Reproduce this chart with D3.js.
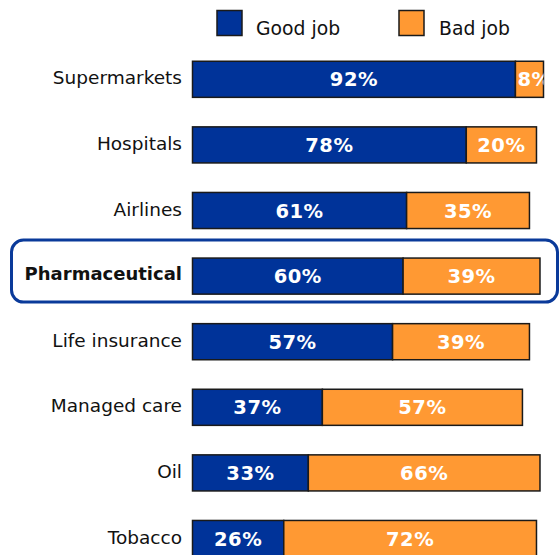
<!DOCTYPE html>
<html><head><meta charset="utf-8">
<script src="https://cdn.jsdelivr.net/npm/d3@7"></script>
<style>body{margin:0;background:#fff;}svg{display:block;font-family:"DejaVu Sans",Verdana,sans-serif;}</style>
</head><body>
<script>
const categories = ["Supermarkets","Hospitals","Airlines","Pharmaceutical","Life insurance","Managed care","Oil","Tobacco"];
const goodJob = [92,78,61,60,57,37,33,26];
const badJob = [8,20,35,39,39,57,66,72];
const seriesNames = ["Good job","Bad job"];
const colors = ["#003399","#FF9933"];
const highlight = "Pharmaceutical";

const W = 559, H = 555;
const svg = d3.select("body").append("svg").attr("width",W).attr("height",H);

const x = d3.scaleLinear().domain([0,100]).range([192.5,543.5]);
const y = d3.scaleBand().domain(categories).range([46.5, 46.5 + 65.6*categories.length]).paddingInner(0.45).paddingOuter(0.225);

// highlight box
const hy = y(highlight) + y.bandwidth()/2;
svg.append("rect").attr("x",11.5).attr("y",hy-36).attr("width",546).attr("height",62)
  .attr("rx",12).attr("fill","none").attr("stroke","#0A3A9A").attr("stroke-width",3);

const data = categories.map((c,i)=>({cat:c, vals:[goodJob[i], badJob[i]]}));
const defs = svg.append("defs");

data.forEach((d,i)=>{
  let start = 0;
  d.vals.forEach((v,k)=>{
    const x0 = x(start), x1 = x(start+v);
    const id = "clip"+i+"_"+k;
    defs.append("clipPath").attr("id",id).append("rect")
      .attr("x",x0).attr("y",y(d.cat)).attr("width",x1-x0).attr("height",y.bandwidth());
    svg.append("rect").attr("x",x0).attr("y",y(d.cat)).attr("width",x1-x0).attr("height",y.bandwidth())
      .attr("fill",colors[k]).attr("stroke","#1a1a1a").attr("stroke-width",1.5);
    svg.append("text").attr("clip-path","url(#"+id+")")
      .attr("x",(x0+x1)/2 + (v<10?5:0)).attr("y",y(d.cat)+y.bandwidth()/2+7)
      .attr("text-anchor","middle").attr("fill","#fff").attr("font-weight","bold")
      .attr("font-size","19.5px").attr("letter-spacing","0.5px").text(v+"%");
    start += v;
  });
  const hl = d.cat===highlight;
  svg.append("text").attr("x", 182).attr("y", y(d.cat)+y.bandwidth()/2 + (hl?4:5))
    .attr("text-anchor","end").attr("fill","#111")
    .attr("font-size", hl ? "18px":"18.5px")
    .attr("font-weight", hl ? "bold":"normal")
    .text(d.cat);
});

// legend
const lg = [{x:217,tx:256},{x:399,tx:439}];
seriesNames.forEach((n,k)=>{
  svg.append("rect").attr("x",lg[k].x).attr("y",10.5).attr("width",25).attr("height",25)
    .attr("fill",colors[k]).attr("stroke","#1a1a1a").attr("stroke-width",1.5);
  svg.append("text").attr("x",lg[k].tx).attr("y",35).attr("font-size","18.8px").attr("fill","#111").text(n);
});
</script>
</body></html>
